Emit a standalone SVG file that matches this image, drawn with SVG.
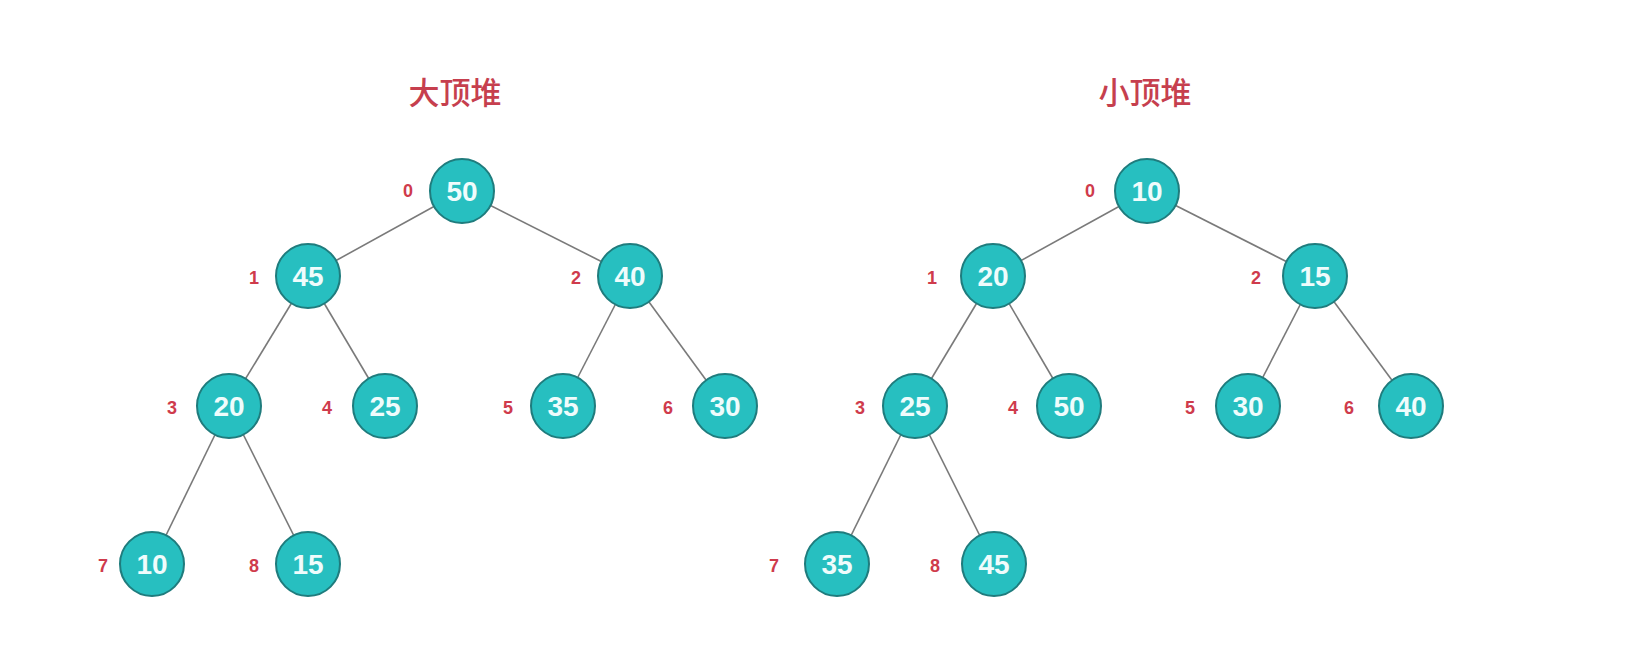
<svg xmlns="http://www.w3.org/2000/svg" width="1650" height="658" viewBox="0 0 1650 658">
<style>
.title{font-family:"Noto Sans CJK SC","Liberation Sans",sans-serif;font-size:31px;font-weight:500;fill:#c63f4e;text-anchor:middle}
.node circle{fill:#27bfc0;stroke:#1f7c7d;stroke-width:2}
.node text.v{font-family:"Liberation Sans",Arial,sans-serif;font-weight:bold;font-size:28px;fill:#effcfc;text-anchor:middle;dominant-baseline:central}
.node text.i{font-family:"Liberation Sans",Arial,sans-serif;font-weight:bold;font-size:18px;fill:#cf3b4c;text-anchor:middle;dominant-baseline:central}
.edges line{stroke:#7a7a7a;stroke-width:1.6}
</style>
<rect width="1650" height="658" fill="#ffffff"/>
<text class="title" x="455" y="104">大顶堆</text>
<text class="title" x="1145" y="104">小顶堆</text>
<g id="connectors" class="edges">
<line x1="462" y1="191" x2="308" y2="276"/>
<line x1="462" y1="191" x2="630" y2="276"/>
<line x1="308" y1="276" x2="229" y2="406"/>
<line x1="308" y1="276" x2="385" y2="406"/>
<line x1="630" y1="276" x2="563" y2="406"/>
<line x1="630" y1="276" x2="725" y2="406"/>
<line x1="229" y1="406" x2="152" y2="564"/>
<line x1="229" y1="406" x2="308" y2="564"/>
<line x1="1147" y1="191" x2="993" y2="276"/>
<line x1="1147" y1="191" x2="1315" y2="276"/>
<line x1="993" y1="276" x2="915" y2="406"/>
<line x1="993" y1="276" x2="1069" y2="406"/>
<line x1="1315" y1="276" x2="1248" y2="406"/>
<line x1="1315" y1="276" x2="1411" y2="406"/>
<line x1="915" y1="406" x2="837" y2="564"/>
<line x1="915" y1="406" x2="994" y2="564"/>
</g>
<g id="L0" class="node"><circle cx="462" cy="191" r="32"/><text class="v" x="462" y="191">50</text><text class="i" x="408" y="191">0</text></g>
<g id="L1" class="node"><circle cx="308" cy="276" r="32"/><text class="v" x="308" y="276">45</text><text class="i" x="254" y="278">1</text></g>
<g id="L2" class="node"><circle cx="630" cy="276" r="32"/><text class="v" x="630" y="276">40</text><text class="i" x="576" y="278">2</text></g>
<g id="L3" class="node"><circle cx="229" cy="406" r="32"/><text class="v" x="229" y="406">20</text><text class="i" x="172" y="408">3</text></g>
<g id="L4" class="node"><circle cx="385" cy="406" r="32"/><text class="v" x="385" y="406">25</text><text class="i" x="327" y="408">4</text></g>
<g id="L5" class="node"><circle cx="563" cy="406" r="32"/><text class="v" x="563" y="406">35</text><text class="i" x="508" y="408">5</text></g>
<g id="L6" class="node"><circle cx="725" cy="406" r="32"/><text class="v" x="725" y="406">30</text><text class="i" x="668" y="408">6</text></g>
<g id="L7" class="node"><circle cx="152" cy="564" r="32"/><text class="v" x="152" y="564">10</text><text class="i" x="103" y="566">7</text></g>
<g id="L8" class="node"><circle cx="308" cy="564" r="32"/><text class="v" x="308" y="564">15</text><text class="i" x="254" y="566">8</text></g>
<g id="R0" class="node"><circle cx="1147" cy="191" r="32"/><text class="v" x="1147" y="191">10</text><text class="i" x="1090" y="191">0</text></g>
<g id="R1" class="node"><circle cx="993" cy="276" r="32"/><text class="v" x="993" y="276">20</text><text class="i" x="932" y="278">1</text></g>
<g id="R2" class="node"><circle cx="1315" cy="276" r="32"/><text class="v" x="1315" y="276">15</text><text class="i" x="1256" y="278">2</text></g>
<g id="R3" class="node"><circle cx="915" cy="406" r="32"/><text class="v" x="915" y="406">25</text><text class="i" x="860" y="408">3</text></g>
<g id="R4" class="node"><circle cx="1069" cy="406" r="32"/><text class="v" x="1069" y="406">50</text><text class="i" x="1013" y="408">4</text></g>
<g id="R5" class="node"><circle cx="1248" cy="406" r="32"/><text class="v" x="1248" y="406">30</text><text class="i" x="1190" y="408">5</text></g>
<g id="R6" class="node"><circle cx="1411" cy="406" r="32"/><text class="v" x="1411" y="406">40</text><text class="i" x="1349" y="408">6</text></g>
<g id="R7" class="node"><circle cx="837" cy="564" r="32"/><text class="v" x="837" y="564">35</text><text class="i" x="774" y="566">7</text></g>
<g id="R8" class="node"><circle cx="994" cy="564" r="32"/><text class="v" x="994" y="564">45</text><text class="i" x="935" y="566">8</text></g>
</svg>
